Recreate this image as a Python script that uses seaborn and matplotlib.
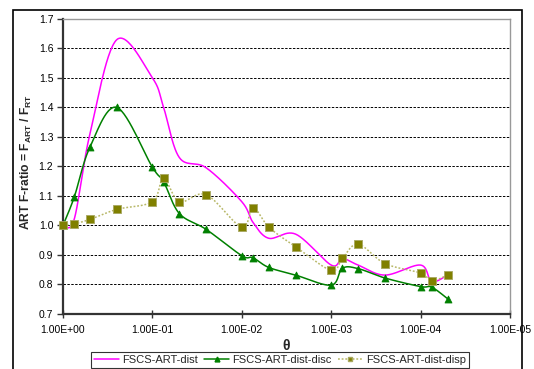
import numpy as np
import pandas as pd
import matplotlib
matplotlib.use("Agg")
import matplotlib.pyplot as plt
import seaborn as sns
from matplotlib.lines import Line2D
from matplotlib.patches import Rectangle
from matplotlib.ticker import FixedLocator, FuncFormatter

# data
theta = [1, 0.75, 0.5, 0.25, 0.1, 0.075, 0.05, 0.025, 0.01, 0.0075, 0.005,
         0.0025, 0.001, 0.00075, 0.0005, 0.00025, 0.0001, 0.000075, 0.00005]
dist = [1.0, 1.02, 1.31, 1.63, 1.50, 1.40, 1.23, 1.195, 1.08, 1.01, 0.956,
        0.97, 0.865, 0.887, 0.865, 0.831, 0.865, 0.809, 0.831]
disc = [1.0, 1.095, 1.265, 1.40, 1.197, 1.148, 1.04, 0.986, 0.897, 0.89, 0.857,
        0.831, 0.797, 0.854, 0.853, 0.821, 0.792, 0.79, 0.751]
disp = [1.0, 1.005, 1.02, 1.054, 1.08, 1.159, 1.08, 1.104, 0.993, 1.06, 0.994,
        0.927, 0.847, 0.888, 0.936, 0.87, 0.838, 0.812, 0.831]

series_names = ["FSCS-ART-dist", "FSCS-ART-dist-disc", "FSCS-ART-dist-disp"]
x_ticks = [1, 1e-1, 1e-2, 1e-3, 1e-4, 1e-5]
y_ticks = [0.7, 0.8, 0.9, 1.0, 1.1, 1.2, 1.3, 1.4, 1.5, 1.6, 1.7]


def smooth(xs, ys, n=30):
    """Excel-like smoothed line (cubic bezier through points, in log-x space)"""
    px = np.log10(np.asarray(xs, float))
    py = np.asarray(ys, float)
    P = np.column_stack([px, py])
    P = np.vstack([P[0], P, P[-1]])
    out = []
    t = np.linspace(0, 1, n)[:, None]
    for i in range(1, len(P) - 2):
        p0, p1, p2, p3 = P[i - 1], P[i], P[i + 1], P[i + 2]
        c1 = p1 + (p2 - p0) / 6
        c2 = p2 - (p3 - p1) / 6
        seg = ((1 - t) ** 3) * p1 + 3 * ((1 - t) ** 2) * t * c1 + 3 * (1 - t) * t ** 2 * c2 + t ** 3 * p2
        out.append(seg if i == 1 else seg[1:])
    out = np.vstack(out)
    return 10 ** out[:, 0], out[:, 1]


sns.set_style("white")
plt.rcParams["font.family"] = ["Liberation Sans", "DejaVu Sans"]
plt.rcParams["mathtext.fontset"] = "custom"
plt.rcParams["mathtext.bf"] = "Liberation Sans:bold"
plt.rcParams["mathtext.rm"] = "Liberation Sans"

W, H = 534, 369
fig = plt.figure(figsize=(W / 100, H / 100), dpi=100)
ax = fig.add_axes([63 / W, 1 - 313.7 / H, (510 - 63) / W, (313.7 - 19) / H])

# outer chart frame
fig.patches.append(Rectangle((13 / W, -0.05), (522 - 13) / W, 1.05 - 10 / H,
                             transform=fig.transFigure, fill=False,
                             edgecolor="black", linewidth=1.2))

styles = [
    dict(color="#ff00ff", ls="-", lw=1.1, marker=None, ms=0, mfc=None, mec=None),
    dict(color="#008000", ls="-", lw=1.1, marker="^", ms=5, mfc="#008000", mec="#008000"),
    dict(color="#b8b868", ls=(0, (1.2, 1.2)), lw=1.1, marker="s", ms=5.5, mfc="#808000", mec="#a8a860"),
]

for name, vals, st in zip(series_names, [dist, disc, disp], styles):
    sx, sy = smooth(theta, vals)
    curve = pd.DataFrame({"theta": sx, "ratio": sy})
    sns.lineplot(data=curve, x="theta", y="ratio", ax=ax, color=st["color"],
                 linestyle=st["ls"], linewidth=st["lw"], sort=False, estimator=None,
                 zorder=3)
    if st["marker"]:
        pts = pd.DataFrame({"theta": theta, "ratio": vals})
        sns.scatterplot(data=pts, x="theta", y="ratio", ax=ax, marker=st["marker"],
                        s=st["ms"] ** 2, color=st["mfc"], edgecolor=st["mec"],
                        linewidth=0.6, zorder=4)
        ax.collections[-1].set_clip_on(False)

ax.set_xscale("log")
ax.set_xlim(1, 1e-5)
ax.set_ylim(0.7, 1.7)
ax.xaxis.set_major_locator(FixedLocator(x_ticks))
ax.xaxis.set_minor_locator(FixedLocator([]))
ax.xaxis.set_major_formatter(FuncFormatter(lambda v, p: f"{v:.2E}"))
ax.set_yticks(y_ticks)
ax.yaxis.set_major_formatter(FuncFormatter(lambda v, p: f"{v:.1f}"))

for y in y_ticks[1:-1]:
    ax.axhline(y, color="black", lw=0.7, ls=(0, (2.5, 1.5)), zorder=1)

ax.tick_params(axis="y", direction="out", length=4, width=1, labelsize=7.5, pad=3,
               left=True, colors="#333333", labelcolor="black")
ax.tick_params(axis="x", direction="inout", length=6, width=1, labelsize=7.5, pad=5,
               bottom=True, colors="#333333", labelcolor="black")

for side in ["left", "bottom"]:
    ax.spines[side].set_color("#333333")
    ax.spines[side].set_linewidth(1.6)
for side in ["top", "right"]:
    ax.spines[side].set_color("#999999")
    ax.spines[side].set_linewidth(1.0)

ax.set_xlabel("θ", fontsize=10, fontweight="bold", labelpad=3)
ax.set_ylabel(r"ART F-ratio = F$_\mathbf{ART}$ / F$_\mathbf{RT}$", fontsize=8.7,
              fontweight="bold")
ax.yaxis.set_label_coords((34 - 63) / 447, (313.7 - 162) / 294.7)

handles = [Line2D([], [], color=st["color"], ls=st["ls"], lw=st["lw"],
                  marker=st["marker"], ms=3.5, mfc=st["mfc"], mec=st["mec"])
           for st in styles]
leg = fig.legend(handles, series_names, loc="upper center", ncol=3,
                 bbox_to_anchor=(280 / W, 1 - 352 / H), fontsize=8,
                 frameon=True, fancybox=False, edgecolor="black",
                 handlelength=2.2, handletextpad=0.3, columnspacing=0.6,
                 borderpad=0.25, borderaxespad=0)
leg.get_frame().set_linewidth(0.8)

fig.savefig("out.png", dpi=100)
